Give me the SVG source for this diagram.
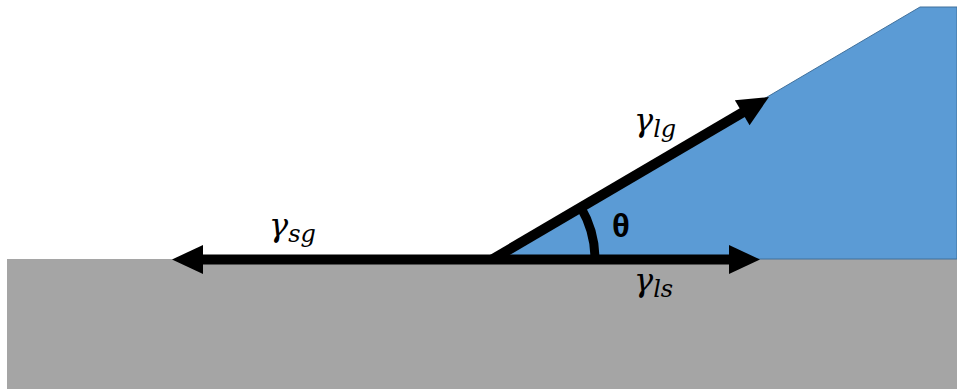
<svg xmlns="http://www.w3.org/2000/svg" width="957" height="390" viewBox="0 0 957 390">
<style>
.lbl{font-family:"DejaVu Serif","Liberation Serif",serif;font-style:italic;fill:#000}
.big{font-size:32px}
.sub{font-size:24px}
.theta{font-family:"Liberation Sans","DejaVu Sans",sans-serif;font-weight:bold;font-size:33px;fill:#000}
.vec{stroke:#000;stroke-width:10;fill:none;marker-end:url(#head)}
</style>
<defs>
<marker id="head" markerUnits="userSpaceOnUse" markerWidth="32" markerHeight="30" refX="11" refY="14.5" orient="auto" overflow="visible">
<path d="M0,0 L31,14.5 L0,29 Z" fill="#000"/>
</marker>
</defs>
<rect width="957" height="390" fill="#fff"/>
<g id="solid">
<rect x="7" y="259" width="950" height="130" fill="#a5a5a5"/>
</g>
<g id="liquid">
<polygon points="492,259 920,7 957,7 957,259" fill="#5b9bd5" stroke="#41719c" stroke-width="1"/>
</g>
<g id="connectors">
<line class="vec" x1="492" y1="259.5" x2="192" y2="259.5"/>
<line class="vec" x1="492" y1="259.5" x2="740" y2="259.5"/>
<line class="vec" x1="492" y1="259.5" x2="751.7" y2="107.1"/>
<path d="M595,259.5 A103,103 0 0 0 580.9,207.5" fill="none" stroke="#000" stroke-width="9"/>
</g>
<g id="label-sg">
<text class="lbl" x="269" y="236"><tspan class="big">γ</tspan><tspan class="sub" dy="6">sg</tspan></text>
</g>
<g id="label-lg">
<text class="lbl" x="634" y="131"><tspan class="big">γ</tspan><tspan class="sub" dy="6">lg</tspan></text>
</g>
<g id="label-ls">
<text class="lbl" x="634" y="291"><tspan class="big">γ</tspan><tspan class="sub" dy="6">ls</tspan></text>
</g>
<g id="label-theta">
<text class="theta" x="621" y="237" text-anchor="middle">θ</text>
</g>
</svg>
